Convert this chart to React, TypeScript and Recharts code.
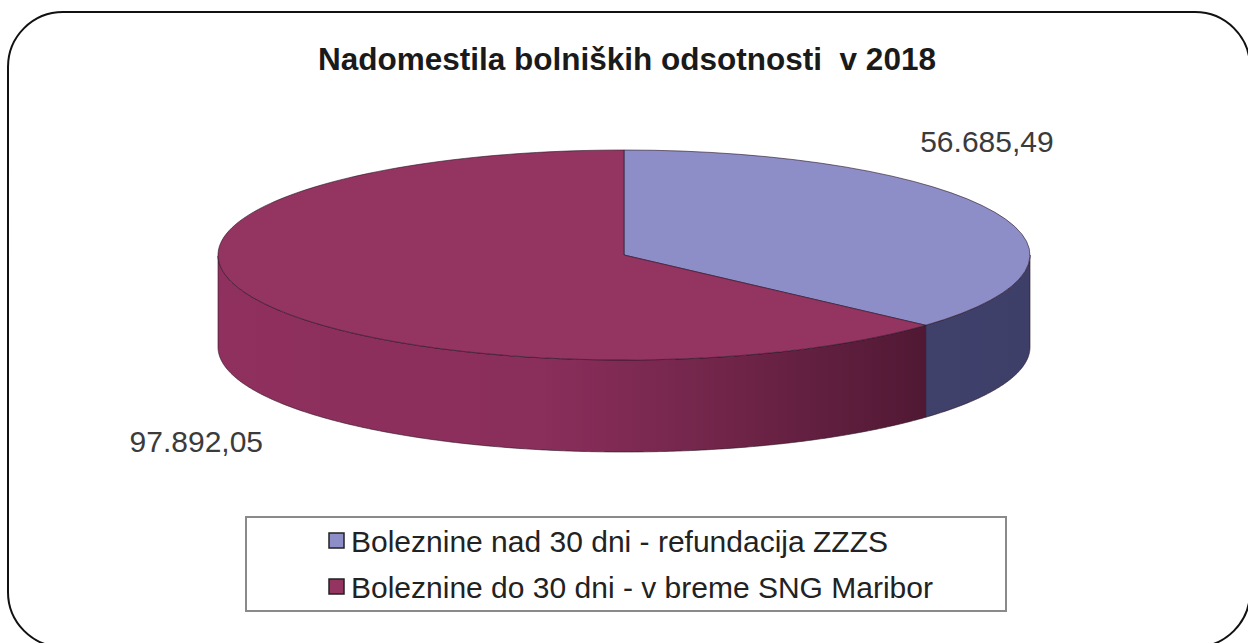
import React from 'react';
import { PieChart, Pie, Cell, Legend, Tooltip } from 'recharts';

// sick-leave compensation, 2018 (EUR)
const categories = [
    'Boleznine nad 30 dni - refundacija ZZZS',
    'Boleznine do 30 dni - v breme SNG Maribor'
];
const amounts = [56685.49, 97892.05];

const TITLE = 'Nadomestila bolniških odsotnosti  v 2018';

const WIDTH = 1248;
const HEIGHT = 643;
const CX = 624;
const CY = 255;
const RADIUS = 406;
const TILT = 0.2586; // ellipse ry / rx
const DEPTH = 92;
const FONT = '"Liberation Sans", Arial, Helvetica, sans-serif';
const RAD = Math.PI / 180;

const TOP_COLORS = ['#8d8dc7', '#933461'];
const WALL_STOPS: [string, string][][] = [
    [['0', '#4a4b78'], ['1', '#3e3f69']],
    [['0', '#8f305e'], ['0.4', '#8a2e5b'], ['0.62', '#712549'], ['0.88', '#4f1833'], ['1', '#4a1730']]
];

const data = categories.map((name, i) => ({ name, value: amounts[i] }));

const fmt = (v: number) => {
    const [int, dec] = v.toFixed(2).split('.');
    return int.replace(/\B(?=(\d{3})+(?!\d))/g, '.') + ',' + dec;
};

const Slice3D = (props: any) => {
    const { cx, cy, outerRadius, startAngle, endAngle, fill } = props;
    const name = props.payload?.name ?? props.name;
    const idx = Math.max(0, categories.indexOf(name));
    const ry = outerRadius * TILT;
    const pt = (a: number) => [cx + outerRadius * Math.cos(a * RAD), cy - ry * Math.sin(a * RAD)];

    // front wall: only the part of the arc on the lower half of the ellipse
    const step = startAngle > endAngle ? -0.5 : 0.5;
    const n = Math.ceil(Math.abs(endAngle - startAngle) / 0.5);
    const runs: number[][][] = [];
    let cur: number[][] = [];
    for (let i = 0; i <= n; i++) {
        const a = i === n ? endAngle : startAngle + step * i;
        if (Math.sin(a * RAD) <= 0.0001) cur.push(pt(a));
        else if (cur.length) {
            runs.push(cur);
            cur = [];
        }
    }
    if (cur.length) runs.push(cur);

    const [sx, sy] = pt(startAngle);
    const [ex, ey] = pt(endAngle);
    const large = Math.abs(endAngle - startAngle) > 180 ? 1 : 0;
    const sweep = startAngle > endAngle ? 1 : 0;
    const gid = `wall-grad-${idx}`;

    return (
        <g>
            <defs>
                <linearGradient id={gid} gradientUnits="userSpaceOnUse" x1={cx - outerRadius} x2={cx + outerRadius} y1={0} y2={0}>
                    {WALL_STOPS[idx].map(([o, c]) => (
                        <stop key={o} offset={o} stopColor={c} />
                    ))}
                </linearGradient>
            </defs>
            {runs.map((run, k) => (
                <path
                    key={k}
                    d={
                        'M ' + run.map(p => `${p[0]},${p[1]}`).join(' L ') +
                        ' L ' + run.slice().reverse().map(p => `${p[0]},${p[1] + DEPTH}`).join(' L ') + ' Z'
                    }
                    fill={`url(#${gid})`}
                    stroke="#2a1424"
                    strokeOpacity={0.6}
                    strokeWidth={1}
                />
            ))}
            <path
                d={`M ${cx},${cy} L ${sx},${sy} A ${outerRadius} ${ry} 0 ${large} ${sweep} ${ex},${ey} Z`}
                fill={fill}
                stroke="#2a1424"
                strokeOpacity={0.6}
                strokeWidth={1}
            />
        </g>
    );
};

const renderLabel = (props: any) => {
    const { cx, cy, midAngle, outerRadius, value } = props;
    const x = cx + outerRadius * Math.cos(midAngle * RAD);
    const y = cy - outerRadius * TILT * Math.sin(midAngle * RAD);
    const front = Math.sin(midAngle * RAD) < 0;
    return (
        <text
            x={front ? x + 10 : x - 8}
            y={front ? y + DEPTH + 62 : y - 60}
            textAnchor={front ? 'end' : 'middle'}
            fill="#3b3b3b"
            fontSize={30}
            fontFamily={FONT}
        >
            {fmt(value)}
        </text>
    );
};

const renderLegend = (props: any) => {
    // keep the data order (Recharts sorts legend items by name)
    const items = [...(props.payload || [])].sort(
        (a: any, b: any) => categories.indexOf(a.value) - categories.indexOf(b.value)
    );
    return (
        <svg width={763} height={97} style={{ display: 'block' }}>
            <rect x={1} y={1} width={760} height={94} fill="#fff" stroke="#8a8a8a" strokeWidth={2} />
            {items.map((entry: any, i: number) => (
                <g key={i}>
                    <rect x={84} y={17 + i * 46} width={15} height={15} fill={entry.color} stroke="#222" strokeWidth={1.5} />
                    <text x={106} y={36 + i * 46} fontSize={30} fontFamily={FONT} fill="#222">
                        {entry.value}
                    </text>
                </g>
            ))}
        </svg>
    );
};

const App: React.FC = () => {
    return (
        <div style={{ position: 'absolute', left: 0, top: 0, width: WIDTH, height: HEIGHT, background: '#fff', overflow: 'hidden' }}>
            <svg width={WIDTH} height={HEIGHT} style={{ position: 'absolute', left: 0, top: 0 }}>
                <rect x={8} y={12} width={1242} height={635} rx={55} ry={55} fill="#fff" stroke="#111" strokeWidth={2} />
                <text
                    x={627}
                    y={70}
                    textAnchor="middle"
                    fontSize={31.5}
                    fontWeight="bold"
                    fontFamily={FONT}
                    fill="#1a1a1a"
                    style={{ whiteSpace: 'pre' }}
                >
                    {TITLE}
                </text>
            </svg>
            <div style={{ position: 'absolute', left: 0, top: 0 }}>
                <PieChart width={WIDTH} height={HEIGHT} margin={{ top: 0, right: 0, bottom: 0, left: 0 }}>
                    <Pie
                        data={data}
                        dataKey="value"
                        nameKey="name"
                        cx={CX}
                        cy={CY}
                        outerRadius={RADIUS}
                        startAngle={90}
                        endAngle={-270}
                        stroke="none"
                        label={renderLabel}
                        labelLine={false}
                        shape={Slice3D}
                        activeShape={Slice3D}
                        inactiveShape={Slice3D}
                        isAnimationActive={false}
                    >
                        {data.map((d, i) => (
                            <Cell key={d.name} fill={TOP_COLORS[i]} />
                        ))}
                    </Pie>
                    <Tooltip defaultIndex={0} content={() => null} cursor={false} />
                    <Legend
                        verticalAlign="bottom"
                        width={763}
                        height={97}
                        content={renderLegend}
                        wrapperStyle={{ left: 245, top: 516, bottom: 'auto', width: 763, height: 97 }}
                    />
                </PieChart>
            </div>
        </div>
    );
};

export default App;
